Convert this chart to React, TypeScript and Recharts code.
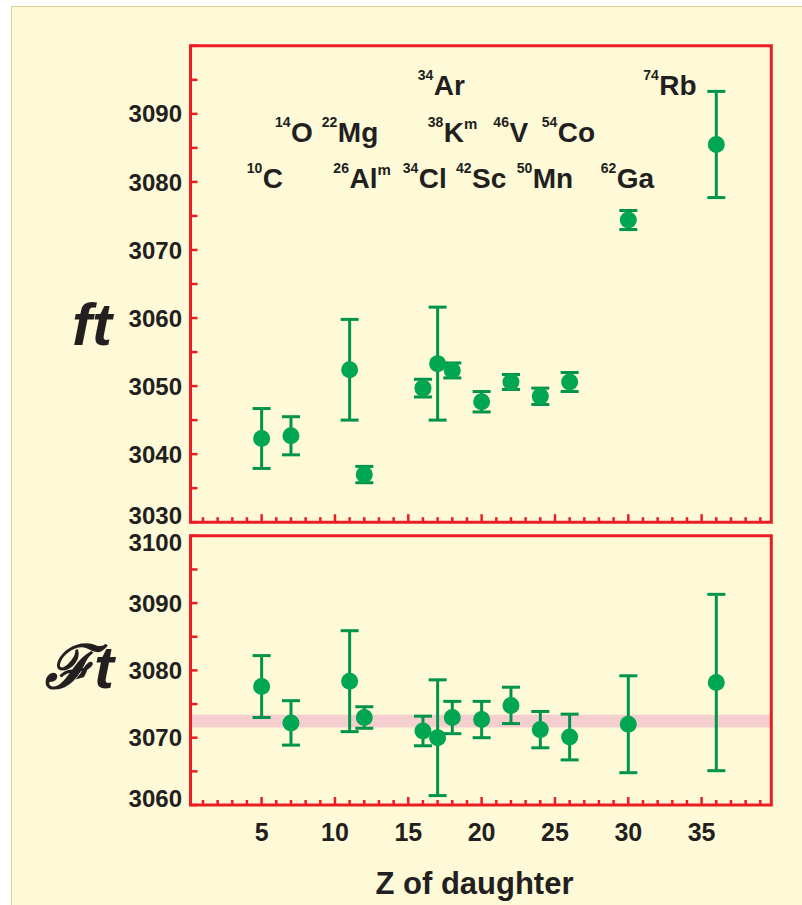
import React from 'react';
import {
  ScatterChart,
  Scatter,
  XAxis,
  YAxis,
  ErrorBar,
  ReferenceArea,
  ReferenceDot,
} from 'recharts';

// Superallowed 0+ -> 0+ beta emitters, ordered by Z of the daughter nucleus
const daughterZ = [5, 7, 11, 12, 16, 17, 18, 20, 22, 24, 26, 30, 36];

// uncorrected ft values (s) and their uncertainties
const ftValues = [3042.3, 3042.7, 3052.4, 3037.0, 3049.7, 3053.3, 3052.3, 3047.7, 3050.6, 3048.5, 3050.6, 3074.4, 3085.5];
const ftErrors = [4.4, 2.8, 7.4, 1.2, 1.3, 8.3, 1.1, 1.5, 1.1, 1.2, 1.4, 1.4, 7.8];

// corrected Ft values (s) and their uncertainties
const FtValues = [3077.6, 3072.2, 3078.4, 3073.0, 3071.0, 3070.0, 3073.0, 3072.7, 3074.8, 3071.2, 3070.1, 3072.0, 3078.2];
const FtErrors = [4.6, 3.3, 7.5, 1.6, 2.2, 8.6, 2.4, 2.7, 2.7, 2.7, 3.4, 7.2, 13.1];

// weighted average of Ft (band)
const FtAverageBand = [3071.5, 3073.4];

// parent nuclide labels
const labelMass = ['10', '14', '22', '26', '34', '34', '38', '42', '46', '50', '54', '62', '74'];
const labelSymbol = ['C', 'O', 'Mg', 'Al', 'Cl', 'Ar', 'K', 'Sc', 'V', 'Mn', 'Co', 'Ga', 'Rb'];
const labelIsomer = [false, false, false, true, false, false, true, false, false, false, false, false, false];
// label anchors in chart units (left edge in Z, baseline in ft)
const labelZ = [3.98, 5.91, 9.1, 9.89, 14.62, 15.64, 16.32, 18.25, 20.8, 22.39, 24.1, 28.12, 31.02];
const labelFt = [3079.1, 3085.9, 3085.9, 3079.1, 3079.1, 3092.8, 3085.9, 3079.1, 3085.9, 3079.1, 3085.9, 3079.1, 3092.8];

// axes
const zDomain = [0.15, 39.75];
const xMajorTicks = [5, 10, 15, 20, 25, 30, 35];
const topDomain = [3030, 3100];
const topYLabels = [3030, 3040, 3050, 3060, 3070, 3080, 3090];
const bottomDomain = [3060, 3100];
const bottomYLabels = [3060, 3070, 3080, 3090, 3100];

const RED = '#ec1c24';
const DOT = '#00a651';
const BAR = '#00944a';
const INK = '#231f20';
const FONT = '"Liberation Sans", Arial, Helvetica, sans-serif';

const xTicks = Array.from({ length: 39 }, (_, i) => i + 1);
const yTicksFor = (lo: number, hi: number) =>
  Array.from({ length: Math.round((hi - lo) / 5) + 1 }, (_, i) => lo + i * 5);

const topPoints = daughterZ.map((z, i) => ({ z, v: ftValues[i], err: ftErrors[i] }));
const bottomPoints = daughterZ.map((z, i) => ({ z, v: FtValues[i], err: FtErrors[i] }));

const Marker = (p: any) => <circle cx={p.cx} cy={p.cy} r={8.5} fill={DOT} />;

const makeXTick = (withLabels: boolean) => (p: any) => {
  const v = p.payload.value;
  const major = xMajorTicks.includes(v);
  return (
    <g>
      <line x1={p.x} x2={p.x} y1={p.y} y2={p.y - (major ? 8 : 5)} stroke={RED} strokeWidth={2.5} />
      {withLabels && major && (
        <text x={p.x} y={p.y + 36} textAnchor="middle" fontFamily={FONT} fontWeight={700} fontSize={25} fill={INK}>
          {v}
        </text>
      )}
    </g>
  );
};

const makeYTick = (labels: number[], domain: number[]) => (p: any) => {
  const v = p.payload.value;
  let shift = 0;
  if (v === domain[0]) shift = -7;
  if (v === domain[1]) shift = 7;
  return (
    <g>
      <line x1={p.x} x2={p.x + 7} y1={p.y} y2={p.y} stroke={RED} strokeWidth={2.5} />
      {labels.includes(v) && (
        <text
          x={p.x - 8.5}
          y={p.y + shift}
          dy="0.36em"
          textAnchor="end"
          fontFamily={FONT}
          fontWeight={700}
          fontSize={24}
          fill={INK}
        >
          {v}
        </text>
      )}
    </g>
  );
};

const NuclideLabel = ({ cx, cy, i }: { cx: number; cy: number; i: number }) => (
  <text x={cx} y={cy} fontFamily={FONT} fontWeight={700} fill={INK}>
    <tspan fontSize={14} dy={-15}>
      {labelMass[i]}
    </tspan>
    <tspan fontSize={28} dy={15} dx={0.5}>
      {labelSymbol[i]}
    </tspan>
    {labelIsomer[i] && (
      <tspan fontSize={15} dy={-13}>
        m
      </tspan>
    )}
  </text>
);

const frame = (domain: number[]) => (
  <ReferenceArea
    x1={zDomain[0]}
    x2={zDomain[1]}
    y1={domain[0]}
    y2={domain[1]}
    fill="none"
    stroke={RED}
    strokeWidth={3}
    ifOverflow="visible"
  />
);

export default function App() {
  return (
    <div style={{ position: 'absolute', left: 0, top: 0, width: 802, height: 905, background: '#ffffff', overflow: 'hidden' }}>
      <div
        style={{
          position: 'absolute',
          left: 11,
          top: 6,
          width: 791,
          height: 899,
          background: '#fefad8',
          borderLeft: '1px solid #ddd08e',
          borderTop: '1px solid #ddd08e',
        }}
      />
      {/* ft panel */}
      <div style={{ position: 'absolute', left: 0, top: 0 }}>
        <ScatterChart width={802} height={560} margin={{ top: 45.8, right: 30.7, bottom: 7.8, left: 0.5 }}>
          <XAxis
            type="number"
            dataKey="z"
            domain={zDomain}
            ticks={xTicks}
            interval={0}
            allowDataOverflow
            axisLine={false}
            tickLine={false}
            tickSize={0}
            tickMargin={0}
            height={30}
            tick={makeXTick(false)}
          />
          <YAxis
            type="number"
            dataKey="v"
            domain={topDomain}
            ticks={yTicksFor(topDomain[0], topDomain[1])}
            interval={0}
            allowDataOverflow
            axisLine={false}
            tickLine={false}
            tickSize={0}
            tickMargin={0}
            width={190}
            tick={makeYTick(topYLabels, topDomain)}
            label={{
              content: () => (
                <text x={72} y={345} fontFamily={FONT} fontWeight={700} fontStyle="italic" fontSize={60} fill={INK}>
                  ft
                </text>
              ),
            }}
          />
          {frame(topDomain)}
          <Scatter data={topPoints} isAnimationActive={false} shape={Marker}>
            <ErrorBar dataKey="err" direction="y" width={9} strokeWidth={3} stroke={BAR} />
          </Scatter>
          {labelSymbol.map((_, i) => (
            <ReferenceDot
              key={i}
              x={labelZ[i]}
              y={labelFt[i]}
              r={0}
              ifOverflow="visible"
              shape={(p: any) => <NuclideLabel cx={p.cx} cy={p.cy} i={i} />}
            />
          ))}
        </ScatterChart>
      </div>
      {/* Ft panel */}
      <div style={{ position: 'absolute', left: 0, top: 0 }}>
        <ScatterChart width={802} height={905} margin={{ top: 535.8, right: 30.7, bottom: 70, left: 0.5 }}>
          <XAxis
            type="number"
            dataKey="z"
            domain={zDomain}
            ticks={xTicks}
            interval={0}
            allowDataOverflow
            axisLine={false}
            tickLine={false}
            tickSize={0}
            tickMargin={0}
            height={30}
            tick={makeXTick(true)}
            label={{
              content: () => (
                <text x={474.5} y={894} textAnchor="middle" fontFamily={FONT} fontWeight={700} fontSize={31} fill={INK}>
                  Z of daughter
                </text>
              ),
            }}
          />
          <YAxis
            type="number"
            dataKey="v"
            domain={bottomDomain}
            ticks={yTicksFor(bottomDomain[0], bottomDomain[1])}
            interval={0}
            allowDataOverflow
            axisLine={false}
            tickLine={false}
            tickSize={0}
            tickMargin={0}
            width={190}
            tick={makeYTick(bottomYLabels, bottomDomain)}
            label={{
              content: () => (
                <text x={45} y={688} fontFamily={FONT} fontWeight={700} fontStyle="italic" fontSize={60} fill={INK}>
                  ℱt
                </text>
              ),
            }}
          />
          <ReferenceArea y1={FtAverageBand[0]} y2={FtAverageBand[1]} fill="#f5cfcf" fillOpacity={1} stroke="none" ifOverflow="visible" />
          {frame(bottomDomain)}
          <Scatter data={bottomPoints} isAnimationActive={false} shape={Marker}>
            <ErrorBar dataKey="err" direction="y" width={9} strokeWidth={3} stroke={BAR} />
          </Scatter>
        </ScatterChart>
      </div>
    </div>
  );
}
